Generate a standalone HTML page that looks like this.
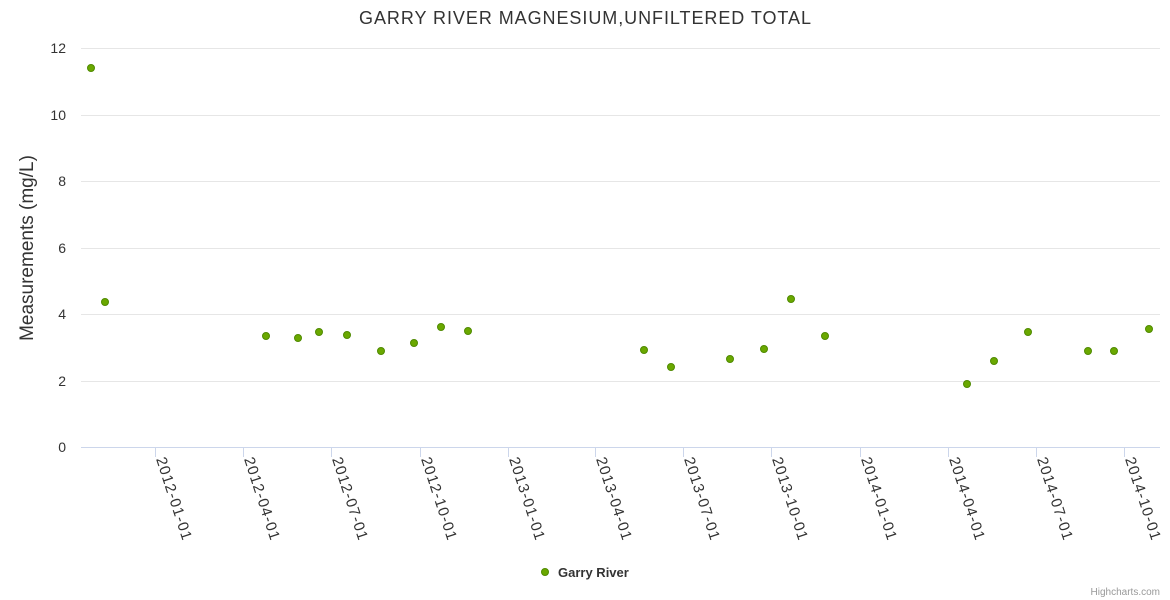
<!DOCTYPE html>
<html><head><style>body{margin:0;background:#fff}svg{display:block}text{font-family:"Liberation Sans",sans-serif}</style></head>
<body>
<svg width="1170" height="600" xmlns="http://www.w3.org/2000/svg">
<text x="585" y="24" text-anchor="middle" font-size="18" fill="#333" textLength="452">GARRY RIVER MAGNESIUM,UNFILTERED TOTAL</text>
<g stroke="#e6e6e6" stroke-width="1">
<line x1="81" x2="1160" y1="48.5" y2="48.5"/><line x1="81" x2="1160" y1="115.5" y2="115.5"/><line x1="81" x2="1160" y1="181.5" y2="181.5"/><line x1="81" x2="1160" y1="248.5" y2="248.5"/><line x1="81" x2="1160" y1="314.5" y2="314.5"/><line x1="81" x2="1160" y1="381.5" y2="381.5"/>
</g>
<line x1="81" x2="1160" y1="447.5" y2="447.5" stroke="#ccd6eb"/>
<g font-size="14" fill="#333" text-anchor="end">
<text x="66" y="53">12</text><text x="66" y="120">10</text><text x="66" y="186">8</text><text x="66" y="253">6</text><text x="66" y="319">4</text><text x="66" y="386">2</text><text x="66" y="452">0</text>
</g>
<text transform="translate(33,248) rotate(-90)" text-anchor="middle" font-size="19" fill="#333">Measurements (mg/L)</text>
<g stroke="#ccd6eb">
<line x1="155.5" x2="155.5" y1="447" y2="457"/><line x1="243.5" x2="243.5" y1="447" y2="457"/><line x1="331.5" x2="331.5" y1="447" y2="457"/><line x1="420.5" x2="420.5" y1="447" y2="457"/><line x1="508.5" x2="508.5" y1="447" y2="457"/><line x1="595.5" x2="595.5" y1="447" y2="457"/><line x1="683.5" x2="683.5" y1="447" y2="457"/><line x1="771.5" x2="771.5" y1="447" y2="457"/><line x1="860.5" x2="860.5" y1="447" y2="457"/><line x1="948.5" x2="948.5" y1="447" y2="457"/><line x1="1036.5" x2="1036.5" y1="447" y2="457"/><line x1="1124.5" x2="1124.5" y1="447" y2="457"/>
</g>
<g font-size="15" fill="#333">
<text transform="translate(156,459) rotate(72)" textLength="86">2012-01-01</text>
<text transform="translate(244,459) rotate(72)" textLength="86">2012-04-01</text>
<text transform="translate(332,459) rotate(72)" textLength="86">2012-07-01</text>
<text transform="translate(421,459) rotate(72)" textLength="86">2012-10-01</text>
<text transform="translate(509,459) rotate(72)" textLength="86">2013-01-01</text>
<text transform="translate(596,459) rotate(72)" textLength="86">2013-04-01</text>
<text transform="translate(684,459) rotate(72)" textLength="86">2013-07-01</text>
<text transform="translate(772,459) rotate(72)" textLength="86">2013-10-01</text>
<text transform="translate(861,459) rotate(72)" textLength="86">2014-01-01</text>
<text transform="translate(949,459) rotate(72)" textLength="86">2014-04-01</text>
<text transform="translate(1037,459) rotate(72)" textLength="86">2014-07-01</text>
<text transform="translate(1125,459) rotate(72)" textLength="86">2014-10-01</text>
</g>
<g fill="#6aa800" stroke="#4f8a00" stroke-width="1">
<circle cx="91" cy="68" r="3.5"/><circle cx="105" cy="302" r="3.5"/><circle cx="266" cy="336" r="3.5"/><circle cx="298" cy="338" r="3.5"/><circle cx="319" cy="332" r="3.5"/><circle cx="347" cy="335" r="3.5"/><circle cx="381" cy="351" r="3.5"/><circle cx="414" cy="343" r="3.5"/><circle cx="441" cy="327" r="3.5"/><circle cx="468" cy="331" r="3.5"/><circle cx="644" cy="350" r="3.5"/><circle cx="671" cy="367" r="3.5"/><circle cx="730" cy="359" r="3.5"/><circle cx="764" cy="349" r="3.5"/><circle cx="791" cy="299" r="3.5"/><circle cx="825" cy="336" r="3.5"/><circle cx="967" cy="384" r="3.5"/><circle cx="994" cy="361" r="3.5"/><circle cx="1028" cy="332" r="3.5"/><circle cx="1088" cy="351" r="3.5"/><circle cx="1114" cy="351" r="3.5"/><circle cx="1149" cy="329" r="3.5"/>
<circle cx="545" cy="572" r="3.5"/>
</g>
<text x="558" y="577" font-size="13" font-weight="bold" fill="#333">Garry River</text>
<text x="1160" y="595" text-anchor="end" font-size="10" fill="#999">Highcharts.com</text>
</svg>
</body></html>
